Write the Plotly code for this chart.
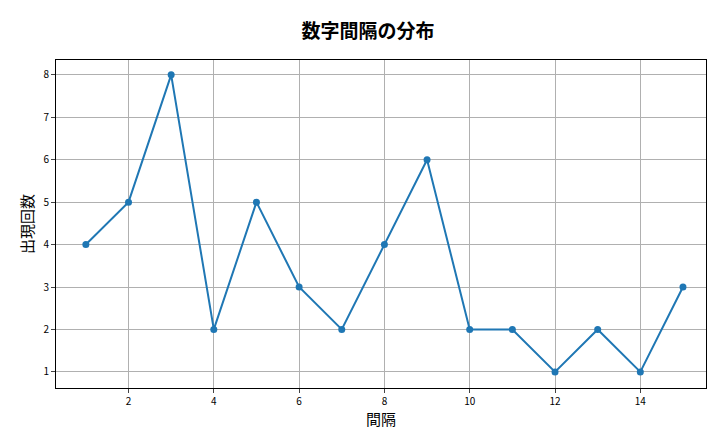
import plotly.graph_objects as go

intervals = list(range(1, 16))
counts = [4, 5, 8, 2, 5, 3, 2, 4, 6, 2, 2, 1, 2, 1, 3]
title = "数字間隔の分布"
xlabel = "間隔"
ylabel = "出現回数"

font = "Noto Sans CJK JP"
fig = go.Figure(go.Scatter(
    x=intervals, y=counts, mode="lines+markers",
    line=dict(color="#1f77b4", width=2),
    marker=dict(color="#1f77b4", size=7),
))
axis_common = dict(showgrid=True, gridcolor="#b0b0b0", gridwidth=1, showline=True,
                   linecolor="black", mirror=True, ticks="outside", ticklen=4,
                   tickfont=dict(size=10, color="black", family=font), zeroline=False,
                   automargin=False)
fig.update_layout(
    width=720, height=432, plot_bgcolor="white", paper_bgcolor="white",
    margin=dict(l=48, r=22, t=52, b=52, autoexpand=False), showlegend=False,
    title=dict(text="<b>" + title + "</b>", x=0.5, xanchor="center", y=0.945, yanchor="middle",
               font=dict(size=19, family=font, color="black"), automargin=False),
    xaxis=dict(range=[0.30, 15.54], tickvals=[2, 4, 6, 8, 10, 12, 14],
               title=dict(text=xlabel, font=dict(size=15, family=font, color="black"), standoff=4),
               **axis_common),
    yaxis=dict(range=[0.62, 8.35], tickvals=list(range(1, 9)),
               title=dict(text=ylabel, font=dict(size=15, family=font, color="black"), standoff=6),
               **axis_common),
)
fig.write_html("out.html")
